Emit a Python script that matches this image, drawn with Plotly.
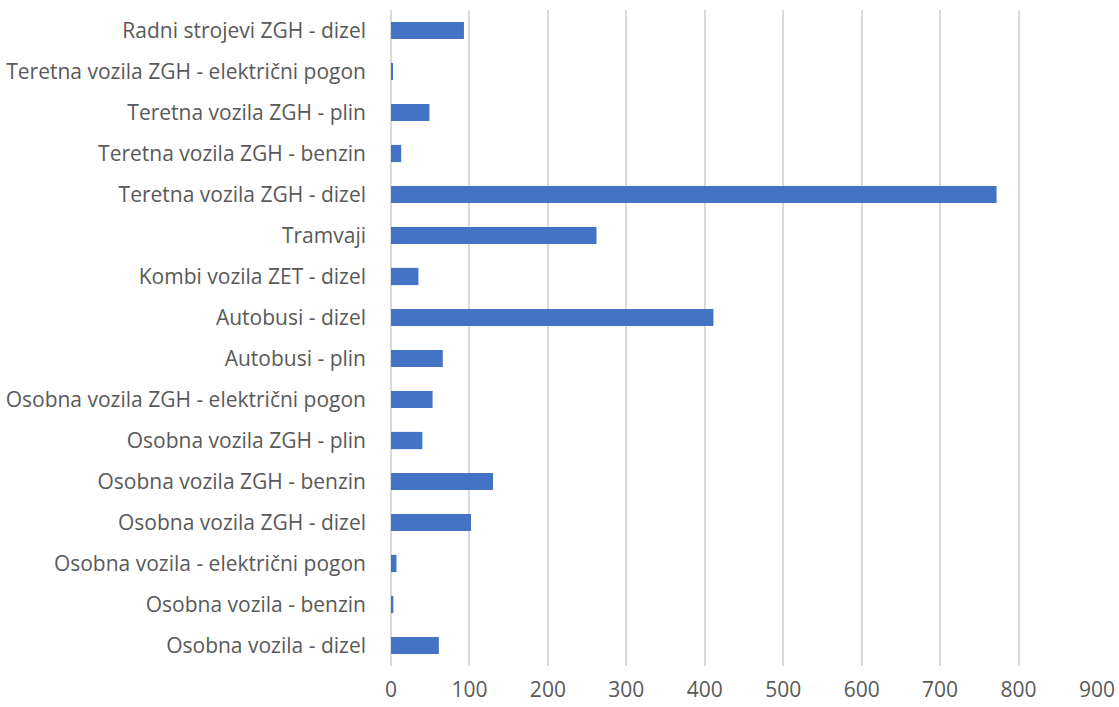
import plotly.graph_objects as go

# categories bottom -> top (as drawn on the y axis)
categories = [
    "Osobna vozila - dizel",
    "Osobna vozila - benzin",
    "Osobna vozila - električni pogon",
    "Osobna vozila ZGH - dizel",
    "Osobna vozila ZGH - benzin",
    "Osobna vozila ZGH - plin",
    "Osobna vozila ZGH - električni pogon",
    "Autobusi - plin",
    "Autobusi - dizel",
    "Kombi vozila ZET - dizel",
    "Tramvaji",
    "Teretna vozila ZGH - dizel",
    "Teretna vozila ZGH - benzin",
    "Teretna vozila ZGH - plin",
    "Teretna vozila ZGH - električni pogon",
    "Radni strojevi ZGH - dizel",
]
values = [61, 3, 7, 102, 130, 40, 53, 66, 411, 35, 262, 772, 13, 49, 1.5, 93]

x_ticks = [0, 100, 200, 300, 400, 500, 600, 700, 800, 900]

fig = go.Figure(
    go.Bar(
        x=values,
        y=categories,
        orientation="h",
        marker=dict(color="#4472C4", line=dict(width=0)),
    )
)

fig.update_layout(
    width=1119,
    height=707,
    plot_bgcolor="white",
    paper_bgcolor="white",
    margin=dict(l=391, r=22, t=10, b=41),
    bargap=0.58,
    showlegend=False,
    font=dict(family="Open Sans", size=21, color="#595959"),
)

fig.update_xaxes(
    range=[0, 900],
    tickvals=x_ticks,
    showgrid=True,
    gridcolor="#d9d9d9",
    gridwidth=1.5,
    zeroline=True,
    zerolinecolor="#d9d9d9",
    zerolinewidth=1.5,
    showline=False,
    ticks="",
    ticklabelstandoff=9,
    automargin=False,
)

fig.update_yaxes(
    showgrid=False,
    showline=False,
    ticks="",
    ticklabelstandoff=24,
    automargin=False,
)

# drop the default body margin so the figure fills the window exactly
fig.write_html(
    "out.html",
    config={"displayModeBar": False},
    post_script="document.body.style.margin='0';",
)
